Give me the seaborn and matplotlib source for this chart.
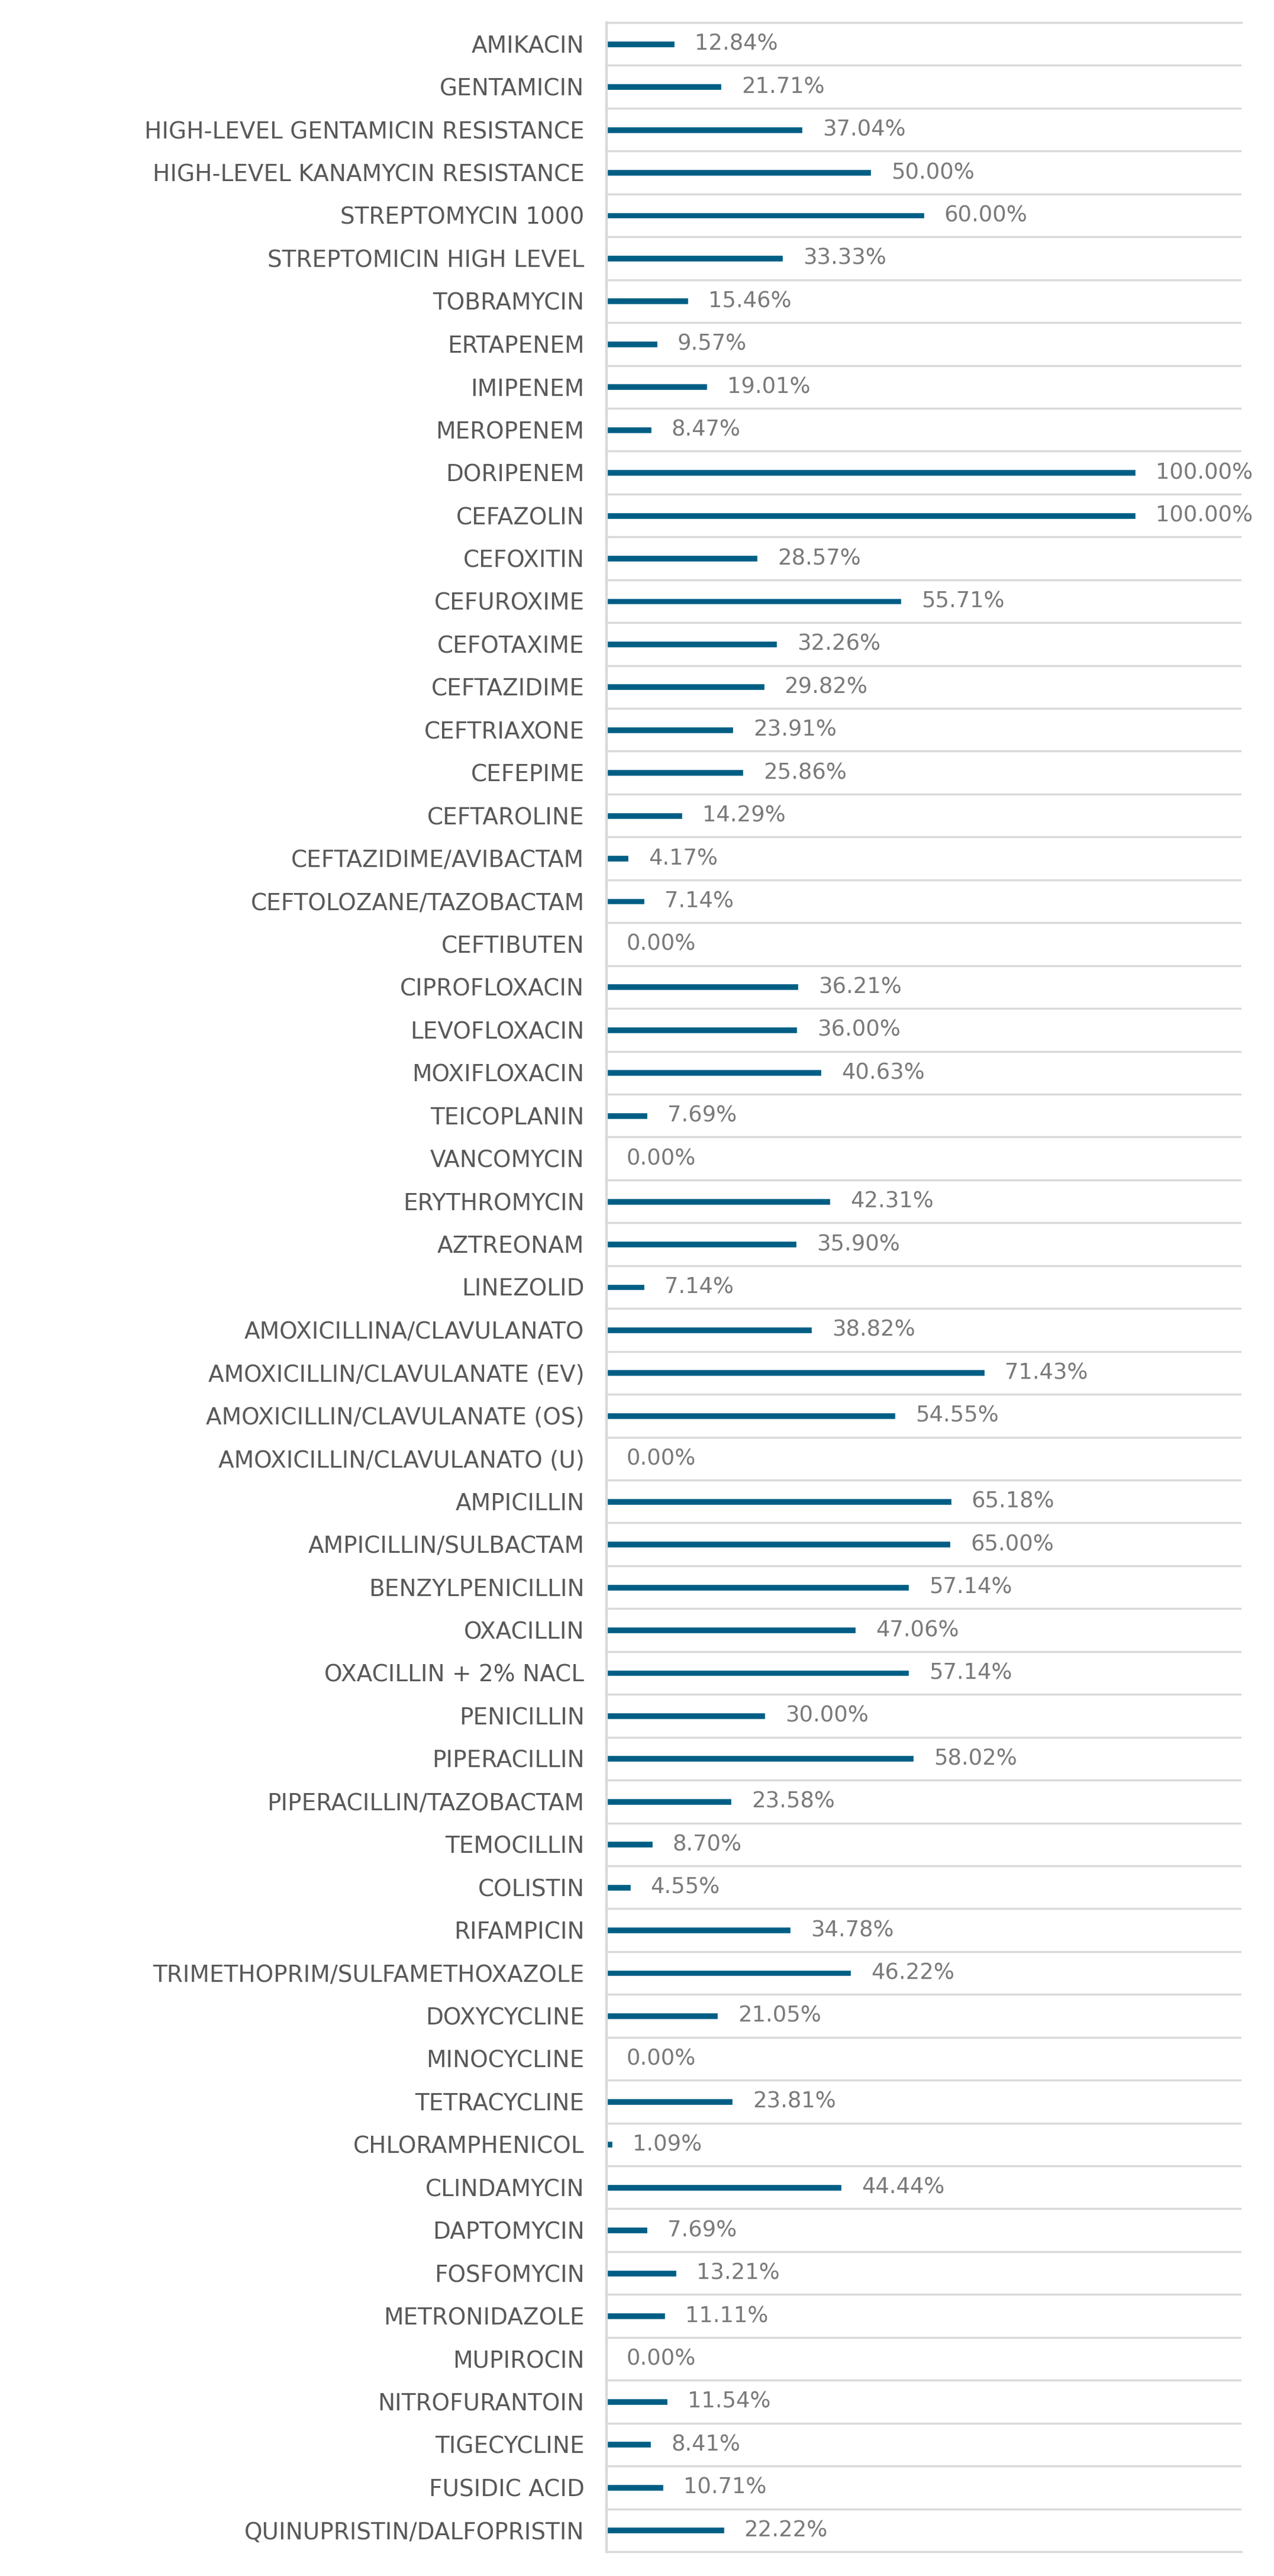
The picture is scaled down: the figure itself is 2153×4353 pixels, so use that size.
import numpy as np
import pandas as pd
import matplotlib
matplotlib.use("Agg")
import matplotlib.pyplot as plt
import seaborn as sns

categories = [
    "AMIKACIN", "GENTAMICIN", "HIGH-LEVEL GENTAMICIN RESISTANCE",
    "HIGH-LEVEL KANAMYCIN RESISTANCE", "STREPTOMYCIN 1000", "STREPTOMICIN HIGH LEVEL",
    "TOBRAMYCIN", "ERTAPENEM", "IMIPENEM", "MEROPENEM", "DORIPENEM", "CEFAZOLIN",
    "CEFOXITIN", "CEFUROXIME", "CEFOTAXIME", "CEFTAZIDIME", "CEFTRIAXONE", "CEFEPIME",
    "CEFTAROLINE", "CEFTAZIDIME/AVIBACTAM", "CEFTOLOZANE/TAZOBACTAM", "CEFTIBUTEN",
    "CIPROFLOXACIN", "LEVOFLOXACIN", "MOXIFLOXACIN", "TEICOPLANIN", "VANCOMYCIN",
    "ERYTHROMYCIN", "AZTREONAM", "LINEZOLID", "AMOXICILLINA/CLAVULANATO",
    "AMOXICILLIN/CLAVULANATE (EV)", "AMOXICILLIN/CLAVULANATE (OS)",
    "AMOXICILLIN/CLAVULANATO (U)", "AMPICILLIN", "AMPICILLIN/SULBACTAM",
    "BENZYLPENICILLIN", "OXACILLIN", "OXACILLIN + 2% NACL", "PENICILLIN",
    "PIPERACILLIN", "PIPERACILLIN/TAZOBACTAM", "TEMOCILLIN", "COLISTIN", "RIFAMPICIN",
    "TRIMETHOPRIM/SULFAMETHOXAZOLE", "DOXYCYCLINE", "MINOCYCLINE", "TETRACYCLINE",
    "CHLORAMPHENICOL", "CLINDAMYCIN", "DAPTOMYCIN", "FOSFOMYCIN", "METRONIDAZOLE",
    "MUPIROCIN", "NITROFURANTOIN", "TIGECYCLINE", "FUSIDIC ACID",
    "QUINUPRISTIN/DALFOPRISTIN",
]
resistance_pct = [
    12.84, 21.71, 37.04, 50.00, 60.00, 33.33, 15.46, 9.57, 19.01, 8.47, 100.00, 100.00,
    28.57, 55.71, 32.26, 29.82, 23.91, 25.86, 14.29, 4.17, 7.14, 0.00,
    36.21, 36.00, 40.63, 7.69, 0.00, 42.31, 35.90, 7.14, 38.82,
    71.43, 54.55, 0.00, 65.18, 65.00, 57.14, 47.06, 57.14, 30.00,
    58.02, 23.58, 8.70, 4.55, 34.78, 46.22, 21.05, 0.00, 23.81,
    1.09, 44.44, 7.69, 13.21, 11.11, 0.00, 11.54, 8.41, 10.71, 22.22,
]

df = pd.DataFrame({"antibiotic": categories, "pct": resistance_pct})

sns.set_theme(style="white")
plt.rcParams["font.family"] = ["DejaVu Sans"]

BAR = "#005E84"
GRID = "#D9D9D9"
LABEL = "#595959"
VALUE = "#7A7A7A"

fig = plt.figure(figsize=(21.53, 43.53), dpi=100)
ax = fig.add_axes([1025 / 2153, 1 - 4312 / 4353, (2098 - 1025) / 2153, (4312 - 38) / 4353])

sns.barplot(data=df, x="pct", y="antibiotic", orient="h", color=BAR,
            saturation=1, width=0.15, ax=ax)

n = len(categories)
ax.set_xlim(0, 120)
ax.set_ylim(n - 0.5, -0.5)
ax.set_xlabel("")
ax.set_ylabel("")
ax.set_xticks([])

ax.set_yticks(np.arange(-0.5, n, 1.0), minor=True)
ax.grid(False)
ax.grid(which="minor", axis="y", color=GRID, linewidth=2.5)
ax.tick_params(axis="y", which="both", length=0, pad=27)
ax.tick_params(axis="y", which="major", labelsize=28, labelcolor=LABEL)

for side in ["top", "bottom"]:
    ax.spines[side].set_visible(True)
    ax.spines[side].set_color(GRID)
    ax.spines[side].set_linewidth(2.5)
ax.spines["right"].set_visible(False)
ax.spines["left"].set_color(GRID)
ax.spines["left"].set_linewidth(3.2)

for i, v in enumerate(resistance_pct):
    ax.annotate(f"{v:.2f}%", xy=(v, i), xytext=(24.5, 0), textcoords="offset points",
                ha="left", va="center", fontsize=26.6, color=VALUE)

fig.savefig("out.png", dpi=100, facecolor="white")
